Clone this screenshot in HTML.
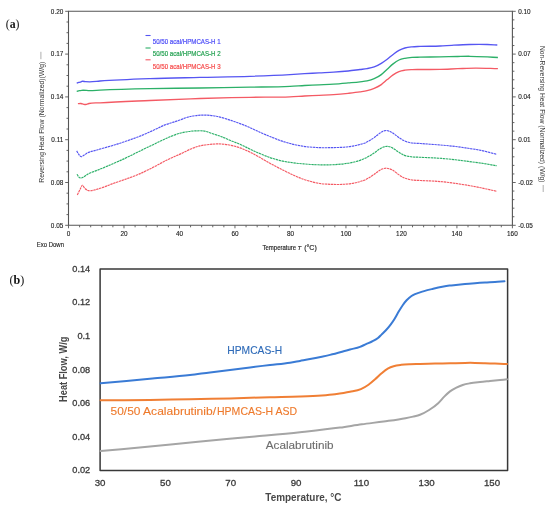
<!DOCTYPE html><html><head><meta charset="utf-8"><style>html,body{margin:0;padding:0;background:#fff;}svg{display:block;filter:blur(0.25px);}text{font-family:"Liberation Sans",sans-serif;}</style></head><body>
<svg width="550" height="508" viewBox="0 0 550 508">
<rect width="550" height="508" fill="#fff"/>
<text x="5.8" y="27.6" style="font-family:'Liberation Serif',serif;font-size:13.5px" fill="#111" textLength="13.7" lengthAdjust="spacingAndGlyphs">(<tspan font-weight="bold">a</tspan>)</text>
<text x="9.4" y="283.8" style="font-family:'Liberation Serif',serif;font-size:13.5px" fill="#111" textLength="14.8" lengthAdjust="spacingAndGlyphs">(<tspan font-weight="bold">b</tspan>)</text>
<g stroke="#555" stroke-width="1.1" fill="none">
<path d="M68.5,225.3 L68.5,11.3 L512.4,11.3 L512.4,225.3 Z"/>
<path d="M65.20,11.30H68.5 M66.50,22.00H68.5 M66.50,32.70H68.5 M66.50,43.40H68.5 M65.20,54.10H68.5 M66.50,64.80H68.5 M66.50,75.50H68.5 M66.50,86.20H68.5 M65.20,96.90H68.5 M66.50,107.60H68.5 M66.50,118.30H68.5 M66.50,129.00H68.5 M65.20,139.70H68.5 M66.50,150.40H68.5 M66.50,161.10H68.5 M66.50,171.80H68.5 M65.20,182.50H68.5 M66.50,193.20H68.5 M66.50,203.90H68.5 M66.50,214.60H68.5 M65.20,225.30H68.5 M512.4,11.30H515.70 M512.4,19.86H514.40 M512.4,28.42H514.40 M512.4,36.98H514.40 M512.4,45.54H514.40 M512.4,54.10H515.70 M512.4,62.66H514.40 M512.4,71.22H514.40 M512.4,79.78H514.40 M512.4,88.34H514.40 M512.4,96.90H515.70 M512.4,105.46H514.40 M512.4,114.02H514.40 M512.4,122.58H514.40 M512.4,131.14H514.40 M512.4,139.70H515.70 M512.4,148.26H514.40 M512.4,156.82H514.40 M512.4,165.38H514.40 M512.4,173.94H514.40 M512.4,182.50H515.70 M512.4,191.06H514.40 M512.4,199.62H514.40 M512.4,208.18H514.40 M512.4,216.74H514.40 M512.4,225.30H515.70 M68.50,225.3V228.30 M79.60,225.3V227.30 M90.69,225.3V227.30 M101.79,225.3V227.30 M112.89,225.3V227.30 M123.99,225.3V228.30 M135.08,225.3V227.30 M146.18,225.3V227.30 M157.28,225.3V227.30 M168.38,225.3V227.30 M179.47,225.3V228.30 M190.57,225.3V227.30 M201.67,225.3V227.30 M212.77,225.3V227.30 M223.86,225.3V227.30 M234.96,225.3V228.30 M246.06,225.3V227.30 M257.16,225.3V227.30 M268.25,225.3V227.30 M279.35,225.3V227.30 M290.45,225.3V228.30 M301.55,225.3V227.30 M312.64,225.3V227.30 M323.74,225.3V227.30 M334.84,225.3V227.30 M345.94,225.3V228.30 M357.03,225.3V227.30 M368.13,225.3V227.30 M379.23,225.3V227.30 M390.33,225.3V227.30 M401.43,225.3V228.30 M412.52,225.3V227.30 M423.62,225.3V227.30 M434.72,225.3V227.30 M445.81,225.3V227.30 M456.91,225.3V228.30 M468.01,225.3V227.30 M479.11,225.3V227.30 M490.21,225.3V227.30 M501.30,225.3V227.30 M512.40,225.3V228.30" stroke-width="0.9"/>
</g>
<g font-size="6.4" fill="#222" stroke="#222" stroke-width="0.12" text-anchor="end">
<text x="63.3" y="13.60">0.20</text>
<text x="63.3" y="56.40">0.17</text>
<text x="63.3" y="99.20">0.14</text>
<text x="63.3" y="142.00">0.11</text>
<text x="63.3" y="184.80">0.08</text>
<text x="63.3" y="227.60">0.05</text>
</g>
<g font-size="6.4" fill="#222" stroke="#222" stroke-width="0.12" text-anchor="start">
<text x="518.2" y="13.60">0.10</text>
<text x="518.2" y="56.40">0.07</text>
<text x="518.2" y="99.20">0.04</text>
<text x="518.2" y="142.00">0.01</text>
<text x="518.2" y="184.80">-0.02</text>
<text x="518.2" y="227.60">-0.05</text>
</g>
<g font-size="6.4" fill="#222" stroke="#222" stroke-width="0.12" text-anchor="middle">
<text x="68.50" y="236.1">0</text>
<text x="123.99" y="236.1">20</text>
<text x="179.47" y="236.1">40</text>
<text x="234.96" y="236.1">60</text>
<text x="290.45" y="236.1">80</text>
<text x="345.94" y="236.1">100</text>
<text x="401.42" y="236.1">120</text>
<text x="456.91" y="236.1">140</text>
<text x="512.40" y="236.1">160</text>
</g>
<text x="36.8" y="247" font-size="6.4" fill="#222" stroke="#222" stroke-width="0.12" textLength="27.2" lengthAdjust="spacingAndGlyphs">Exo Down</text>
<text x="262.5" y="250.4" font-size="6.8" fill="#222" stroke="#222" stroke-width="0.15" textLength="33.6" lengthAdjust="spacingAndGlyphs">Temperature</text>
<text x="297.4" y="250.4" font-size="6.2" font-style="italic" fill="#222" stroke="#222" stroke-width="0.15">T</text>
<text x="304.2" y="250.4" font-size="6.8" fill="#222" stroke="#222" stroke-width="0.15" textLength="12.6" lengthAdjust="spacingAndGlyphs">(°C)</text>
<text transform="translate(43.6,182.8) rotate(-90)" font-size="6.8" fill="#333" textLength="121" lengthAdjust="spacingAndGlyphs">Reversing Heat Flow (Normalized)(W/g)</text>
<path d="M40.9,51.8V59.2" stroke="#999" stroke-width="0.8"/>
<text transform="translate(540.3,45.9) rotate(90)" font-size="6.8" fill="#333" textLength="136.6" lengthAdjust="spacingAndGlyphs">Non-Reversing Heat Flow (Normalized)  (W/g)</text>
<path d="M543.2,185V192" stroke="#999" stroke-width="0.8"/>
<path d="M145.5,35.50H150.6" stroke="#5656f2" stroke-width="1.1"/>
<text x="152.8" y="44.10" font-size="7.5" fill="#4a4af8" stroke="#4a4af8" stroke-width="0.2" textLength="67.8" lengthAdjust="spacingAndGlyphs">50/50 acal/HPMCAS-H 1</text>
<path d="M145.5,48.00H150.6" stroke="#2cb068" stroke-width="1.1"/>
<text x="152.8" y="56.40" font-size="7.5" fill="#22a050" stroke="#22a050" stroke-width="0.2" textLength="67.8" lengthAdjust="spacingAndGlyphs">50/50 acal/HPMCAS-H 2</text>
<path d="M145.5,59.80H150.6" stroke="#f45a64" stroke-width="1.1"/>
<text x="152.8" y="68.60" font-size="7.5" fill="#f64848" stroke="#f64848" stroke-width="0.2" textLength="67.8" lengthAdjust="spacingAndGlyphs">50/50 acal/HPMCAS-H 3</text>
<path d="M76.70,83.20 C77.37,82.93 78.03,82.57 78.70,82.40 C79.20,82.28 79.70,82.36 80.20,82.20 C80.73,82.03 81.27,81.58 81.80,81.40 C83.10,80.97 84.40,81.63 85.70,81.70 C87.03,81.77 88.37,81.80 89.70,81.80 C93.13,81.79 96.57,81.25 100.00,81.00 C116.67,79.79 133.33,79.20 150.00,78.60 C166.67,78.00 183.33,77.78 200.00,77.40 C216.67,77.02 233.33,76.86 250.00,76.30 C263.33,75.85 276.67,75.36 290.00,74.60 C294.83,74.33 299.67,73.98 304.50,73.70 C309.37,73.42 314.23,73.15 319.10,72.90 C323.93,72.65 328.77,72.52 333.60,72.20 C338.47,71.88 343.33,71.52 348.20,71.00 C352.13,70.58 356.07,70.00 360.00,69.50 C362.37,69.20 364.73,69.03 367.10,68.60 C369.47,68.17 371.83,67.78 374.20,66.90 C376.57,66.02 378.93,64.74 381.30,63.30 C383.27,62.10 385.23,60.67 387.20,59.20 C389.17,57.73 391.13,55.97 393.10,54.50 C395.07,53.03 397.03,51.48 399.00,50.40 C400.97,49.32 402.93,48.59 404.90,48.00 C407.27,47.29 409.63,47.07 412.00,46.80 C414.67,46.50 417.33,46.51 420.00,46.40 C426.67,46.12 433.33,46.30 440.00,46.00 C443.93,45.82 447.87,45.51 451.80,45.30 C457.70,44.98 463.60,44.63 469.50,44.50 C475.43,44.37 481.37,44.31 487.30,44.50 C490.63,44.61 493.97,44.83 497.30,45.00" fill="none" stroke="#5656f2" stroke-width="1.35" stroke-linejoin="round"/>
<path d="M76.70,91.40 C77.60,91.13 78.50,90.79 79.40,90.60 C80.20,90.44 81.00,90.37 81.80,90.30 C84.43,90.07 87.07,90.60 89.70,90.60 C93.13,90.60 96.57,90.26 100.00,90.10 C116.67,89.34 133.33,88.95 150.00,88.60 C166.67,88.25 183.33,88.23 200.00,88.00 C216.67,87.77 233.33,87.53 250.00,87.20 C263.33,86.94 276.67,86.92 290.00,86.30 C294.83,86.08 299.67,85.75 304.50,85.50 C309.37,85.25 314.23,85.03 319.10,84.80 C323.93,84.57 328.77,84.42 333.60,84.10 C338.47,83.78 343.33,83.33 348.20,82.90 C352.13,82.55 356.07,82.25 360.00,81.80 C362.37,81.53 364.73,81.42 367.10,80.90 C369.47,80.38 371.83,79.75 374.20,78.70 C376.57,77.65 378.93,76.38 381.30,74.60 C383.27,73.12 385.23,71.08 387.20,69.30 C389.17,67.52 391.13,65.45 393.10,63.90 C395.07,62.35 397.03,60.93 399.00,60.00 C400.97,59.07 402.93,58.72 404.90,58.30 C407.27,57.79 409.63,57.59 412.00,57.40 C414.67,57.19 417.33,57.26 420.00,57.20 C426.67,57.05 433.33,57.03 440.00,56.90 C445.90,56.79 451.80,56.61 457.70,56.50 C461.63,56.42 465.57,56.29 469.50,56.30 C475.43,56.32 481.37,56.61 487.30,56.90 C490.83,57.07 494.37,57.30 497.90,57.50" fill="none" stroke="#2cb068" stroke-width="1.35" stroke-linejoin="round"/>
<path d="M77.90,103.70 C78.93,103.63 79.97,103.36 81.00,103.50 C81.93,103.63 82.87,104.27 83.80,104.40 C84.70,104.53 85.60,104.47 86.50,104.30 C87.30,104.14 88.10,103.73 88.90,103.50 C92.60,102.44 96.30,103.02 100.00,102.80 C116.67,101.80 133.33,101.22 150.00,100.50 C166.67,99.78 183.33,99.03 200.00,98.50 C216.67,97.97 233.33,97.59 250.00,97.30 C263.33,97.07 276.67,97.38 290.00,96.80 C294.83,96.59 299.67,96.25 304.50,96.00 C309.37,95.75 314.23,95.53 319.10,95.30 C323.93,95.07 328.77,94.93 333.60,94.60 C338.47,94.27 343.33,93.81 348.20,93.30 C352.13,92.89 356.07,92.49 360.00,91.90 C362.37,91.54 364.73,91.28 367.10,90.70 C369.47,90.12 371.83,89.42 374.20,88.40 C376.57,87.38 378.93,86.27 381.30,84.60 C383.27,83.21 385.23,81.22 387.20,79.60 C389.17,77.98 391.13,76.23 393.10,74.90 C395.07,73.57 397.03,72.38 399.00,71.60 C400.97,70.82 402.93,70.53 404.90,70.20 C407.27,69.80 409.63,69.72 412.00,69.60 C414.67,69.46 417.33,69.53 420.00,69.50 C426.67,69.43 433.33,69.56 440.00,69.40 C445.90,69.26 451.80,68.92 457.70,68.70 C463.63,68.48 469.57,68.14 475.50,68.10 C482.97,68.05 490.43,68.50 497.90,68.70" fill="none" stroke="#f45a64" stroke-width="1.35" stroke-linejoin="round"/>
<path d="M76.70,150.90 C77.30,151.90 77.90,153.03 78.50,153.90 C79.27,155.01 80.03,156.23 80.80,156.60 C81.80,157.08 82.80,155.84 83.80,155.30 C84.97,154.67 86.13,153.65 87.30,153.00 C90.07,151.46 92.83,151.23 95.60,150.40 C98.37,149.57 101.13,148.79 103.90,148.00 C106.60,147.23 109.30,146.50 112.00,145.70 C116.17,144.46 120.33,143.10 124.50,141.70 C129.37,140.06 134.23,138.42 139.10,136.50 C143.93,134.59 148.77,132.38 153.60,130.20 C157.40,128.48 161.20,126.35 165.00,124.90 C167.57,123.92 170.13,123.24 172.70,122.40 C175.13,121.60 177.57,120.85 180.00,120.00 C182.43,119.15 184.87,118.00 187.30,117.30 C189.70,116.61 192.10,116.16 194.50,115.80 C198.17,115.25 201.83,115.01 205.50,115.10 C209.13,115.19 212.77,115.63 216.40,116.30 C221.23,117.19 226.07,118.83 230.90,120.40 C233.93,121.39 236.97,122.47 240.00,123.60 C243.27,124.82 246.53,126.08 249.80,127.50 C253.10,128.94 256.40,130.73 259.70,132.20 C262.97,133.66 266.23,134.97 269.50,136.30 C272.80,137.64 276.10,139.02 279.40,140.20 C282.63,141.35 285.87,142.41 289.10,143.30 C293.93,144.63 298.77,145.58 303.60,146.30 C308.47,147.02 313.33,147.38 318.20,147.60 C323.03,147.81 327.87,147.70 332.70,147.60 C336.40,147.52 340.10,147.52 343.80,147.20 C348.40,146.80 353.00,146.24 357.60,145.10 C360.33,144.42 363.07,143.84 365.80,142.60 C368.57,141.35 371.33,139.53 374.10,137.60 C375.93,136.32 377.77,134.67 379.60,133.40 C380.73,132.62 381.87,131.68 383.00,131.20 C384.10,130.73 385.20,130.48 386.30,130.50 C387.37,130.52 388.43,130.89 389.50,131.30 C390.63,131.74 391.77,132.41 392.90,133.10 C394.73,134.22 396.57,135.95 398.40,137.20 C400.23,138.45 402.07,139.72 403.90,140.60 C405.73,141.48 407.57,142.02 409.40,142.50 C413.10,143.47 416.80,143.20 420.50,143.50 C423.67,143.76 426.83,143.96 430.00,144.20 C434.23,144.52 438.47,144.82 442.70,145.20 C446.97,145.58 451.23,145.98 455.50,146.50 C459.73,147.02 463.97,147.65 468.20,148.30 C472.43,148.95 476.67,149.55 480.90,150.40 C486.20,151.46 491.50,153.00 496.80,154.30" fill="none" stroke="#5656f2" stroke-width="1.15" stroke-dasharray="2.4,0.6"/>
<path d="M77.00,174.20 C77.50,175.00 78.00,176.00 78.50,176.60 C79.27,177.53 80.03,177.87 80.80,178.00 C81.80,178.17 82.80,177.33 83.80,176.80 C84.97,176.18 86.13,175.11 87.30,174.40 C90.07,172.72 92.83,172.03 95.60,170.90 C98.37,169.77 101.13,168.75 103.90,167.60 C105.93,166.76 107.97,165.88 110.00,165.00 C114.83,162.92 119.67,160.86 124.50,158.60 C129.37,156.33 134.23,153.77 139.10,151.40 C143.93,149.04 148.77,146.71 153.60,144.40 C158.47,142.08 163.33,139.51 168.20,137.50 C172.13,135.88 176.07,134.25 180.00,133.20 C182.43,132.55 184.87,132.08 187.30,131.70 C190.70,131.17 194.10,130.81 197.50,130.80 C200.17,130.79 202.83,130.70 205.50,131.30 C207.50,131.75 209.50,132.73 211.50,133.40 C214.33,134.35 217.17,135.06 220.00,136.10 C223.30,137.31 226.60,138.95 229.90,140.30 C233.27,141.68 236.63,142.82 240.00,144.30 C243.27,145.73 246.53,147.47 249.80,149.00 C253.10,150.54 256.40,152.09 259.70,153.50 C262.97,154.89 266.23,156.25 269.50,157.40 C272.80,158.56 276.10,159.59 279.40,160.40 C282.77,161.23 286.13,161.77 289.50,162.30 C294.20,163.04 298.90,163.49 303.60,163.90 C308.47,164.33 313.33,164.67 318.20,164.80 C323.03,164.93 327.87,164.94 332.70,164.70 C336.40,164.52 340.10,164.29 343.80,163.80 C348.40,163.19 353.00,162.56 357.60,161.10 C360.33,160.23 363.07,159.22 365.80,157.90 C368.57,156.56 371.33,154.98 374.10,153.10 C375.93,151.86 377.77,150.12 379.60,149.00 C380.90,148.21 382.20,147.43 383.50,147.00 C384.80,146.57 386.10,146.35 387.40,146.40 C388.43,146.44 389.47,146.62 390.50,147.00 C391.30,147.29 392.10,147.75 392.90,148.20 C394.73,149.22 396.57,150.85 398.40,152.00 C400.23,153.15 402.07,154.35 403.90,155.10 C405.73,155.85 407.57,156.14 409.40,156.50 C413.10,157.22 416.80,157.09 420.50,157.30 C423.67,157.48 426.83,157.54 430.00,157.70 C434.23,157.92 438.47,158.15 442.70,158.50 C446.97,158.85 451.23,159.31 455.50,159.80 C459.73,160.28 463.97,160.85 468.20,161.40 C472.43,161.95 476.67,162.47 480.90,163.10 C486.20,163.89 491.50,164.90 496.80,165.80" fill="none" stroke="#2cb068" stroke-width="1.15" stroke-dasharray="2.4,0.6"/>
<path d="M77.30,194.90 C78.30,192.93 79.30,190.85 80.30,189.00 C81.00,187.71 81.70,185.45 82.40,185.30 C83.07,185.15 83.73,187.07 84.40,187.80 C85.37,188.86 86.33,189.79 87.30,190.30 C88.50,190.93 89.70,190.75 90.90,190.70 C92.47,190.64 94.03,190.00 95.60,189.60 C98.37,188.89 101.13,188.11 103.90,187.10 C105.93,186.36 107.97,185.39 110.00,184.60 C114.83,182.71 119.67,181.34 124.50,179.60 C129.37,177.84 134.23,176.19 139.10,174.10 C143.93,172.02 148.77,169.54 153.60,167.10 C158.47,164.64 163.33,161.77 168.20,159.40 C173.03,157.04 177.87,155.21 182.70,152.90 C185.13,151.74 187.57,150.35 190.00,149.30 C193.23,147.90 196.47,146.70 199.70,145.90 C202.83,145.12 205.97,144.84 209.10,144.50 C212.00,144.19 214.90,143.90 217.80,143.90 C222.17,143.91 226.53,144.37 230.90,145.30 C233.93,145.94 236.97,146.84 240.00,147.90 C243.27,149.04 246.53,150.44 249.80,152.00 C253.10,153.57 256.40,155.46 259.70,157.30 C262.97,159.12 266.23,161.18 269.50,163.00 C273.00,164.95 276.50,166.81 280.00,168.60 C283.03,170.15 286.07,171.68 289.10,173.10 C293.93,175.37 298.77,177.62 303.60,179.30 C308.47,180.99 313.33,182.35 318.20,183.20 C323.03,184.04 327.87,184.25 332.70,184.40 C336.40,184.51 340.10,184.56 343.80,184.30 C348.40,183.98 353.00,183.53 357.60,182.30 C360.33,181.57 363.07,180.80 365.80,179.50 C368.57,178.18 371.33,176.29 374.10,174.40 C375.93,173.15 377.77,171.44 379.60,170.40 C380.73,169.76 381.87,169.17 383.00,168.80 C384.17,168.42 385.33,168.17 386.50,168.20 C387.50,168.23 388.50,168.49 389.50,168.80 C390.63,169.15 391.77,169.67 392.90,170.30 C394.73,171.32 396.57,173.15 398.40,174.40 C400.23,175.65 402.07,176.95 403.90,177.80 C405.73,178.65 407.57,179.07 409.40,179.50 C413.10,180.38 416.80,180.26 420.50,180.50 C423.67,180.70 426.83,180.73 430.00,180.90 C434.23,181.13 438.47,181.39 442.70,181.80 C446.97,182.22 451.23,182.80 455.50,183.40 C459.73,184.00 463.97,184.67 468.20,185.40 C472.43,186.13 476.67,186.94 480.90,187.80 C486.20,188.87 491.50,190.13 496.80,191.30" fill="none" stroke="#f45a64" stroke-width="1.15" stroke-dasharray="2.4,0.6"/>
<rect x="100.1" y="269.0" width="407.50" height="201.40" fill="none" stroke="#383838" stroke-width="1.5" stroke-linejoin="round"/>
<g font-size="9.2" fill="#3a3a3a" stroke="#3a3a3a" stroke-width="0.3" text-anchor="end">
<text x="90.2" y="271.80">0.14</text>
<text x="90.2" y="305.37">0.12</text>
<text x="90.2" y="338.93">0.1</text>
<text x="90.2" y="372.50">0.08</text>
<text x="90.2" y="406.07">0.06</text>
<text x="90.2" y="439.63">0.04</text>
<text x="90.2" y="473.20">0.02</text>
</g>
<g font-size="9.7" fill="#3a3a3a" stroke="#3a3a3a" stroke-width="0.3" text-anchor="middle">
<text x="100.10" y="486.0">30</text>
<text x="165.42" y="486.0">50</text>
<text x="230.73" y="486.0">70</text>
<text x="296.05" y="486.0">90</text>
<text x="361.37" y="486.0">110</text>
<text x="426.68" y="486.0">130</text>
<text x="492.00" y="486.0">150</text>
</g>
<text x="265.3" y="500.8" font-size="10.2" font-weight="bold" fill="#484848" textLength="76.2" lengthAdjust="spacingAndGlyphs">Temperature, °C</text>
<text transform="translate(66.6,401.9) rotate(-90)" font-size="10.2" font-weight="bold" fill="#484848" textLength="65.3" lengthAdjust="spacingAndGlyphs">Heat Flow, W/g</text>
<path d="M100.60,451.10 C117.07,449.57 133.53,448.09 150.00,446.50 C166.00,444.95 182.00,443.24 198.00,441.70 C217.00,439.88 236.00,438.28 255.00,436.50 C270.00,435.10 285.00,433.79 300.00,432.20 C313.33,430.79 326.67,429.45 340.00,427.60 C347.27,426.59 354.53,425.32 361.80,424.30 C369.07,423.28 376.33,422.51 383.60,421.50 C390.90,420.48 398.20,419.64 405.50,418.20 C408.00,417.71 410.50,417.19 413.00,416.60 C415.33,416.05 417.67,415.67 420.00,414.80 C423.03,413.66 426.07,411.93 429.10,410.00 C432.13,408.07 435.17,406.06 438.20,403.20 C440.30,401.22 442.40,398.48 444.50,396.40 C446.33,394.59 448.17,392.80 450.00,391.40 C452.13,389.77 454.27,388.67 456.40,387.60 C458.50,386.54 460.60,385.69 462.70,385.00 C465.13,384.20 467.57,383.76 470.00,383.30 C473.33,382.67 476.67,382.38 480.00,382.00 C483.33,381.62 486.67,381.33 490.00,381.00 C493.33,380.67 496.67,380.33 500.00,380.00 C502.33,379.77 504.67,379.53 507.00,379.30" fill="none" stroke="#a5a5a5" stroke-width="2" stroke-linejoin="round" stroke-linecap="round"/>
<path d="M100.60,400.30 C117.07,400.20 133.53,400.23 150.00,400.00 C163.33,399.82 176.67,399.47 190.00,399.20 C203.33,398.93 216.67,398.73 230.00,398.40 C243.33,398.07 256.67,397.55 270.00,397.20 C280.00,396.94 290.00,396.89 300.00,396.50 C307.27,396.22 314.53,395.95 321.80,395.40 C326.20,395.07 330.60,394.73 335.00,394.20 C337.87,393.85 340.73,393.48 343.60,393.00 C345.73,392.64 347.87,392.25 350.00,391.80 C353.63,391.04 357.27,390.71 360.90,389.10 C363.43,387.98 365.97,386.49 368.50,384.70 C370.70,383.14 372.90,381.22 375.10,379.30 C377.27,377.41 379.43,375.11 381.60,373.30 C383.80,371.47 386.00,369.63 388.20,368.40 C390.00,367.40 391.80,366.77 393.60,366.20 C396.17,365.39 398.73,365.13 401.30,364.80 C404.20,364.43 407.10,364.33 410.00,364.20 C413.33,364.05 416.67,364.08 420.00,364.00 C425.00,363.89 430.00,363.72 435.00,363.60 C440.00,363.48 445.00,363.42 450.00,363.30 C455.00,363.18 460.00,362.95 465.00,362.90 C468.33,362.86 471.67,362.85 475.00,362.90 C478.33,362.95 481.67,363.08 485.00,363.20 C488.33,363.32 491.67,363.48 495.00,363.60 C499.00,363.75 503.00,363.87 507.00,364.00" fill="none" stroke="#f07f35" stroke-width="2" stroke-linejoin="round" stroke-linecap="round"/>
<path d="M100.60,383.30 C117.87,381.70 135.13,380.10 152.40,378.50 C164.93,377.34 177.47,376.47 190.00,375.00 C196.67,374.22 203.33,373.23 210.00,372.40 C216.67,371.57 223.33,370.83 230.00,370.00 C236.67,369.17 243.33,368.23 250.00,367.40 C256.67,366.57 263.33,365.78 270.00,365.00 C276.67,364.22 283.33,363.76 290.00,362.70 C293.33,362.17 296.67,361.50 300.00,360.90 C303.33,360.30 306.67,359.74 310.00,359.10 C313.93,358.35 317.87,357.54 321.80,356.70 C324.53,356.12 327.27,355.55 330.00,354.90 C334.53,353.83 339.07,352.55 343.60,351.30 C345.73,350.71 347.87,350.08 350.00,349.50 C353.33,348.59 356.67,348.20 360.00,346.90 C362.00,346.12 364.00,345.00 366.00,344.10 C368.00,343.20 370.00,342.52 372.00,341.50 C374.00,340.48 376.00,339.66 378.00,338.00 C379.17,337.03 380.33,335.74 381.50,334.60 C382.97,333.17 384.43,331.89 385.90,330.30 C387.53,328.53 389.17,326.61 390.80,324.40 C392.13,322.60 393.47,320.67 394.80,318.50 C396.10,316.39 397.40,313.79 398.70,311.60 C400.03,309.35 401.37,307.10 402.70,305.20 C404.00,303.35 405.30,301.72 406.60,300.30 C408.23,298.52 409.87,297.11 411.50,296.00 C412.67,295.20 413.83,294.64 415.00,294.10 C416.67,293.33 418.33,292.95 420.00,292.40 C421.37,291.95 422.73,291.51 424.10,291.10 C427.13,290.20 430.17,289.52 433.20,288.80 C436.23,288.08 439.27,287.38 442.30,286.80 C444.70,286.34 447.10,285.91 449.50,285.60 C451.63,285.33 453.77,285.20 455.90,285.00 C458.93,284.71 461.97,284.39 465.00,284.10 C468.33,283.78 471.67,283.47 475.00,283.20 C478.33,282.93 481.67,282.70 485.00,282.50 C488.33,282.30 491.67,282.21 495.00,282.00 C498.17,281.80 501.33,281.53 504.50,281.30" fill="none" stroke="#3a7bd5" stroke-width="2" stroke-linejoin="round" stroke-linecap="round"/>
<text x="227.3" y="353.7" font-size="11" fill="#2d6ab8" stroke="#2d6ab8" stroke-width="0.12" textLength="54.8" lengthAdjust="spacingAndGlyphs">HPMCAS-H</text>
<text x="110.6" y="415.1" font-size="11" fill="#ee7a2c" stroke="#ee7a2c" stroke-width="0.12" textLength="29.8" lengthAdjust="spacingAndGlyphs">50/50</text>
<text x="143.1" y="415.1" font-size="11" fill="#ee7a2c" stroke="#ee7a2c" stroke-width="0.12" textLength="72.9" lengthAdjust="spacingAndGlyphs">Acalabrutinib/</text>
<text x="217.0" y="415.1" font-size="11" fill="#ee7a2c" stroke="#ee7a2c" stroke-width="0.12" textLength="80.1" lengthAdjust="spacingAndGlyphs">HPMCAS-H ASD</text>
<text x="265.7" y="448.6" font-size="11" fill="#6e6e6e" stroke="#6e6e6e" stroke-width="0.12" textLength="67.9" lengthAdjust="spacingAndGlyphs">Acalabrutinib</text>
</svg></body></html>
